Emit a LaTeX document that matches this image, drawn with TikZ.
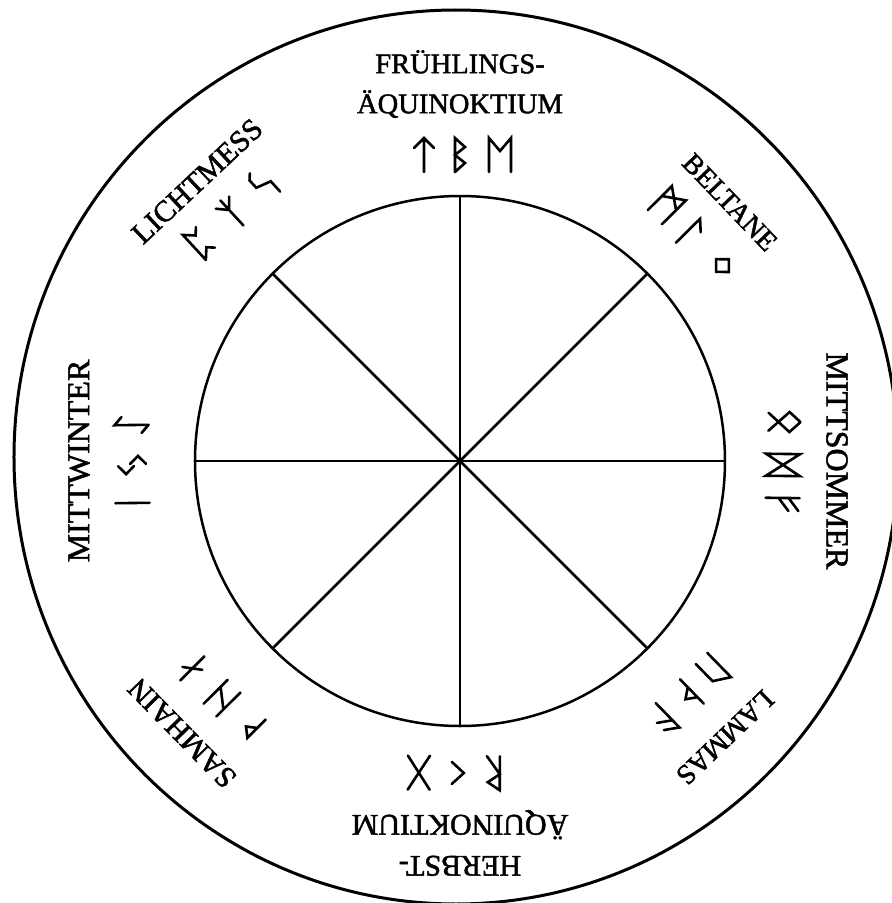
\documentclass[tikz,border=0pt]{standalone}
\usepackage{fontspec}
\setmainfont{Liberation Serif}[FakeBold=1.6]
\tikzset{
 rn/.style={line width=2.6pt, line cap=round, line join=miter},
 lbl/.style={inner sep=0pt, align=center},
 ring/.style={line width=3pt},
 wheel/.style={line width=2.5pt},
 runes/.style={transform shape},
 runeT/.pic={\draw[rn] (0,-17)--(0,17) (-10,7)--(0,17)--(10,7);},
 runeB/.pic={\draw[rn] (-5,-17)--(-5,17)--(5,8)--(-5,0)--(5,-8)--(-5,-17);},
 runeE/.pic={\draw[rn] (-11,-17)--(-11,17)--(0,4)--(11,17)--(11,-17);},
 runeM/.pic={\draw[rn] (-10,-17)--(-10,17)--(10,3) (10,-17)--(10,17)--(-10,3);},
 runeL/.pic={\draw[rn] (-3,-17)--(-3,17)--(7,8);},
 runeNG/.pic={\draw[rn] (0,-9)--(9,0)--(0,9)--(-9,0)--cycle;},
 runeO/.pic={\draw[rn] (0,17)--(10,6)--(-9,-15) (0,17)--(-10,6)--(9,-15);},
 runeD/.pic={\draw[rn] (-11,-17)--(-11,17)--(11,-17)--(11,17)--cycle;},
 runeF/.pic={\draw[rn] (-6,-17)--(-6,17) (-6,6)--(7,16) (-6,-4)--(7,6);},
 runeU/.pic={\draw[rn] (-8,-17)--(-8,17)--(8,7)--(8,-17);},
 runeTH/.pic={\draw[rn] (-5,-17)--(-5,17) (-5,8)--(5,1)--(-5,-6);},
 runeA/.pic={\draw[rn] (-6,-17)--(-6,17)--(7,8) (-6,7)--(7,-2);},
 runeR/.pic={\draw[rn] (-6,-17)--(-6,17)--(6,9)--(-6,1)--(7,-17);},
 runeK/.pic={\draw[rn] (6,11)--(-6,0)--(6,-11);},
 runeG/.pic={\draw[rn] (-11,-17)--(11,17) (-11,17)--(11,-17);},
 runeW/.pic={\draw[rn] (-4,-13)--(-4,13)--(5,6)--(-4,-1);},
 runeH/.pic={\draw[rn] (-9,-17)--(-9,17) (9,-17)--(9,17) (-9,7)--(9,-7);},
 runeN/.pic={\draw[rn] (0,-17)--(0,17) (-8,-6)--(8,6);},
 runeI/.pic={\draw[rn] (0,-17)--(0,17);},
 runeJ/.pic={\draw[rn] (-1,14)--(-9,6)--(-1,-2) (1,2)--(9,-6)--(1,-14);},
 runeEI/.pic={\draw[rn] (0,-17)--(0,17)--(8,10) (0,-17)--(-8,-10);},
 runeP/.pic={\draw[rn] (-7,-17)--(-7,17)--(2,8)--(8,14) (-7,-17)--(2,-8)--(8,-14);},
 runeZ/.pic={\draw[rn] (0,-17)--(0,17) (0,4)--(-9,14) (0,4)--(9,14);},
 runeS/.pic={\draw[rn] (-3,17)--(-8,12)--(-8,2)--(7,-3)--(7,-17);},
}
\begin{document}
\begin{tikzpicture}[x=1pt,y=1pt]
\useasboundingbox (-460,-442) rectangle (432,461);
\fill[white] (-460,-442) rectangle (432,461);
\coordinate (c) at (0,0);
% rings and spokes
\draw[ring] (-4,4) ellipse [x radius=442, y radius=447];
\draw[wheel] (c) circle [radius=265];
\foreach \a in {0,45,...,315} \draw[wheel] (c) -- (\a:265);
% labels
\node[lbl, font=\fontsize{28.5}{40}\selectfont] (spring) at (90:377) {FRÜHLINGS-\\ÄQUINOKTIUM};
\node[lbl, font=\fontsize{28}{34}\selectfont, rotate=-46.2] (beltane) at (43.8:374) {BELTANE};
\node[lbl, font=\fontsize{32}{38}\selectfont, rotate=-90] (midsummer) at (0:377) {MITTSOMMER};
\node[lbl, font=\fontsize{28}{34}\selectfont, rotate=-136.2] (lammas) at (-46.2:383) {LAMMAS};
\node[lbl, font=\fontsize{30}{41}\selectfont, rotate=180] (autumn) at (-90:382) {HERBST-\\ÄQUINOKTIUM};
\node[lbl, font=\fontsize{30}{36}\selectfont, rotate=134.4] (samhain) at (-135.6:389) {SAMHAIN};
\node[lbl, font=\fontsize{32}{38}\selectfont, rotate=90] (midwinter) at (180:381) {MITTWINTER};
\node[lbl, font=\fontsize{30}{36}\selectfont, rotate=43.2] (candlemas) at (133.2:384) {LICHTMESS};
% rune groups
\begin{scope}[shift={(90:306)}, rotate=0, runes]
 \pic at (-36,0) {runeT}; \pic at (0,0) {runeB}; \pic at (40,0) {runeE};
\end{scope}
\begin{scope}[shift={(44.75:324)}, rotate=-45.25, runes]
 \pic at (-36,3) {runeM}; \pic at (0,0) {runeL}; \pic at (46,0) {runeNG};
\end{scope}
\begin{scope}[shift={(-0.7:323)}, rotate=-90.7, runes]
 \pic at (-43,0) {runeO}; \pic at (0,0) {runeD}; \pic at (39,0) {runeF};
\end{scope}
\begin{scope}[shift={(-45.7:327)}, rotate=-135.7, runes]
 \pic at (-35,0) {runeU}; \pic at (0,0) {runeTH}; \pic at (35,0) {runeA};
\end{scope}
\begin{scope}[shift={(-90.4:312)}, rotate=-180.4, runes]
 \pic at (-36,0) {runeR}; \pic at (0,0) {runeK}; \pic at (39,0) {runeG};
\end{scope}
\begin{scope}[shift={(-135.1:336)}, rotate=134.9, runes]
 \pic at (-42,-3) {runeW}; \pic at (0,0) {runeH}; \pic at (42,0) {runeN};
\end{scope}
\begin{scope}[shift={(180.7:328)}, rotate=90.7, runes]
 \pic at (-38,0) {runeI}; \pic at (0,0) {runeJ}; \pic at (40,0) {runeEI};
\end{scope}
\begin{scope}[shift={(132.6:337)}, rotate=42.6, runes]
 \pic at (-44,0) {runeP}; \pic at (0,0) {runeZ}; \pic at (43,0) {runeS};
\end{scope}
\end{tikzpicture}
\end{document}
